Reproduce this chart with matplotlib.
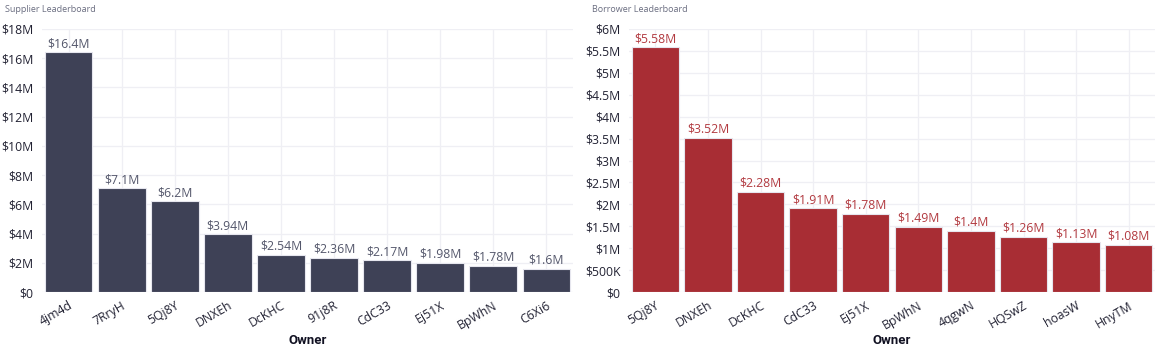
import matplotlib
matplotlib.use("Agg")
import matplotlib.pyplot as plt
from matplotlib.ticker import FuncFormatter, MultipleLocator

supplier_owners = ["4jm4d", "7RryH", "5Qj8Y", "DNXEh", "DcKHC", "91j8R", "CdC33", "Ej51X", "BpWhN", "C6Xi6"]
supplier_values = [16.4e6, 7.1e6, 6.2e6, 3.94e6, 2.54e6, 2.36e6, 2.17e6, 1.98e6, 1.78e6, 1.6e6]

borrower_owners = ["5Qj8Y", "DNXEh", "DcKHC", "CdC33", "Ej51X", "BpWhN", "4qgwN", "HQSwZ", "hoasW", "HnyTM"]
borrower_values = [5.58e6, 3.52e6, 2.28e6, 1.91e6, 1.78e6, 1.49e6, 1.4e6, 1.26e6, 1.13e6, 1.08e6]

plt.rcParams['font.family'] = ['Open Sans', 'DejaVu Sans']

fig = plt.figure(figsize=(11.61, 3.52), dpi=100)
W, H = 1161, 352


def axfmt(v, pos=None):
    if v == 0:
        return "$0"
    if abs(v) >= 1e6:
        return "${:g}M".format(v / 1e6)
    return "${:g}K".format(v / 1e3)


def lblfmt(v):
    return "${:.3g}M".format(v / 1e6)


def panel(rect, title, owners, values, color, lcolor, ymax, ystep):
    l, r, t, b = rect
    ax = fig.add_axes([l / W, 1 - b / H, (r - l) / W, (b - t) / H])
    x = range(len(owners))
    bars = ax.bar(x, values, width=0.9, color=color, edgecolor="#e6e6ee", linewidth=0.8, zorder=3)
    ax.set_xlim(-0.5, len(owners) - 0.5)
    ax.set_ylim(0, ymax)
    ax.yaxis.set_major_locator(MultipleLocator(ystep))
    ax.yaxis.set_major_formatter(FuncFormatter(axfmt))
    ax.set_xticks(list(x))
    ax.set_xticklabels(owners, rotation=30, ha="right", rotation_mode="anchor", fontsize=8.8, color="#222233")
    ax.tick_params(axis="y", labelsize=8.8, labelcolor="#222233", length=0, pad=6)
    ax.tick_params(axis="x", length=0, pad=5)
    ax.grid(True, color="#efeff4", linewidth=0.9, zorder=0)
    for s in ax.spines.values():
        s.set_visible(False)
    for rect_, v in zip(bars, values):
        ax.text(rect_.get_x() + rect_.get_width() / 2, v + ymax * 0.008, lblfmt(v),
                ha="center", va="bottom", fontsize=8.8, color=lcolor, zorder=4)
    ax.set_xlabel("Owner", fontsize=9.5, fontweight="bold", color="#111122", va="center",
                  family=["Roboto", "DejaVu Sans"])
    ax.xaxis.set_label_coords(0.5, (b - 341) / (b - t))
    fig.text((l - 37) / W, 1 - 9 / H, title, fontsize=6.5, color="#6a6d80", ha="left", va="center")
    return ax


panel((42, 573, 29, 292), "Supplier Leaderboard", supplier_owners, supplier_values,
      "#3e4156", "#54576b", 18e6, 2e6)
panel((629, 1155, 29, 292), "Borrower Leaderboard", borrower_owners, borrower_values,
      "#a82d34", "#b23a40", 6e6, 0.5e6)

fig.savefig("out.png", dpi=100, facecolor="white")
